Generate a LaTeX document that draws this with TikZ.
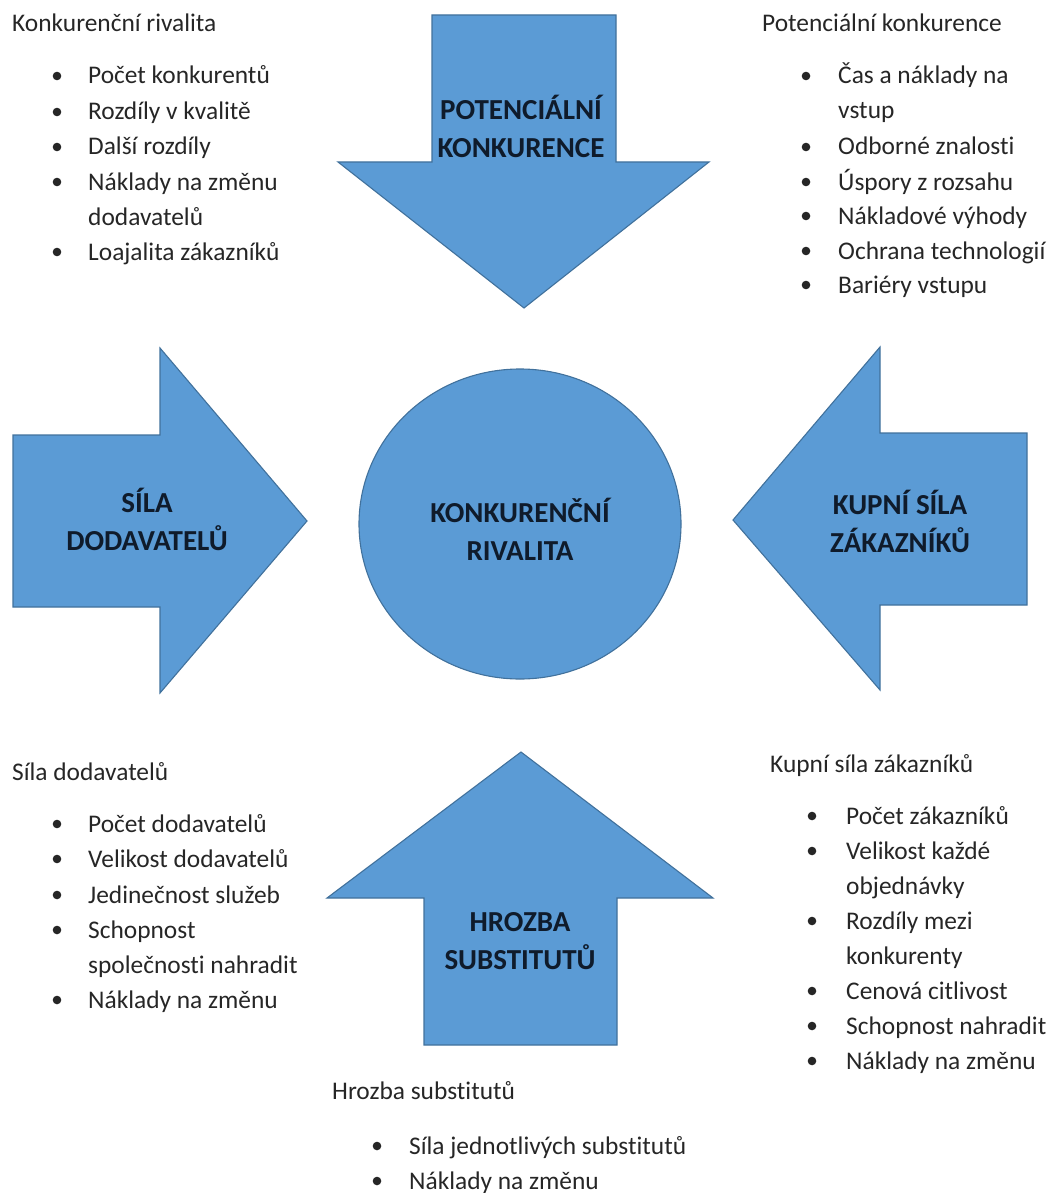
\documentclass[tikz,border=0pt]{standalone}
\usepackage{fontspec}
\setmainfont{Carlito}[Ligatures=NoCommon]
\usepackage{xcolor}
\usepackage{tikz}
\usetikzlibrary{shapes,arrows,positioning,calc}

\definecolor{modra}{HTML}{5B9BD5}
\definecolor{okraj}{HTML}{41719C}
\definecolor{napis}{HTML}{0F1B2B}
\definecolor{popis}{HTML}{262626}

\begin{document}
\begin{tikzpicture}[x=1pt,y=-1pt,
  sila/.style={fill=modra,draw=okraj,line width=1.1pt},
  nadpis/.style={font=\fontsize{29}{38}\selectfont\bfseries,text=napis,align=center},
  titulek/.style={font=\fontsize{25.4}{35}\selectfont,text=popis,anchor=base west,inner sep=0pt},
  radek/.style={font=\fontsize{25.4}{35}\selectfont,text=popis,anchor=base west,inner sep=0pt},
  tecka/.style={fill=popis}]
  \useasboundingbox (0,0) rectangle (1054,1193);

  % 上箭头
  \draw[sila] (432,15) -- (616,15) -- (616,162) -- (709,162) -- (524,308)
    -- (338,162) -- (432,162) -- cycle;
  % 左箭头
  \draw[sila] (13,435) -- (160,435) -- (160,348) -- (307,521) -- (160,693)
    -- (160,607) -- (13,607) -- cycle;
  % 右箭头
  \draw[sila] (1027,433) -- (880,433) -- (880,347) -- (733,520) -- (880,690)
    -- (880,605) -- (1027,605) -- cycle;
  % 下箭头
  \draw[sila] (521,752) -- (713,898) -- (617,898) -- (617,1045) -- (424,1045)
    -- (424,898) -- (327,898) -- cycle;
  % 圆
  \draw[sila] (520,524) ellipse (161 and 155);

  % 标签
  \node[nadpis] (potencialni) at (521,126) {POTENCIÁLNÍ\\KONKURENCE};
  \node[nadpis] (dodavatele) at (147,519) {SÍLA\\DODAVATELŮ};
  \node[nadpis] (zakaznici) at (900,521) {KUPNÍ SÍLA\\ZÁKAZNÍKŮ};
  \node[nadpis] (substituty) at (520,941) {HROZBA\\SUBSTITUTŮ};
  \node[nadpis] (rivalita) at (520,529) {KONKURENČNÍ\\RIVALITA};

  % 左上
  \node[titulek] (t-rivalita) at (12,32) {Konkurenční rivalita};
  \foreach \y/\t/\b [count=\i] in {76/Počet konkurentů/1, 112/Rozdíly v kvalitě/1,
      147/Další rozdíly/1, 182/Náklady na změnu/1, 217/dodavatelů/0,
      252/Loajalita zákazníků/1}{
    \ifnum\b=1 \fill[tecka] (57,\y) circle (4.3pt); \fi
    \node[radek] (rivalita-\i) at (88,\y+8) {\t};
  }

  % 右上
  \node[titulek] (t-potencialni) at (762,32) {Potenciální konkurence};
  \foreach \y/\t/\b [count=\i] in {76/Čas a náklady na/1, 111/vstup/0,
      147/Odborné znalosti/1, 182/Úspory z rozsahu/1, 216/Nákladové výhody/1,
      251/Ochrana technologií/1, 285/Bariéry vstupu/1}{
    \ifnum\b=1 \fill[tecka] (806,\y) circle (4.3pt); \fi
    \node[radek] (potencialni-\i) at (838,\y+8) {\t};
  }

  % 左下
  \node[titulek] (t-dodavatele) at (12,780) {Síla dodavatelů};
  \foreach \y/\t/\b [count=\i] in {824/Počet dodavatelů/1, 859/Velikost dodavatelů/1,
      895/Jedinečnost služeb/1, 930/Schopnost/1, 965/společnosti nahradit/0,
      1000/Náklady na změnu/1}{
    \ifnum\b=1 \fill[tecka] (57,\y) circle (4.3pt); \fi
    \node[radek] (dodavatele-\i) at (88,\y+8) {\t};
  }

  % 右下
  \node[titulek] (t-zakaznici) at (770,772) {Kupní síla zákazníků};
  \foreach \y/\t/\b [count=\i] in {816/Počet zákazníků/1, 851/Velikost každé/1,
      886/objednávky/0, 921/Rozdíly mezi/1, 956/konkurenty/0,
      991/Cenová citlivost/1, 1026/Schopnost nahradit/1, 1061/Náklady na změnu/1}{
    \ifnum\b=1 \fill[tecka] (812,\y) circle (4.3pt); \fi
    \node[radek] (zakaznici-\i) at (846,\y+8) {\t};
  }

  % 下
  \node[titulek] (t-substituty) at (332,1099) {Hrozba substitutů};
  \foreach \y/\t/\b [count=\i] in {1146/Síla jednotlivých substitutů/1,
      1181/Náklady na změnu/1}{
    \ifnum\b=1 \fill[tecka] (377,\y) circle (4.3pt); \fi
    \node[radek] (substituty-\i) at (409,\y+8) {\t};
  }
\end{tikzpicture}
\end{document}
